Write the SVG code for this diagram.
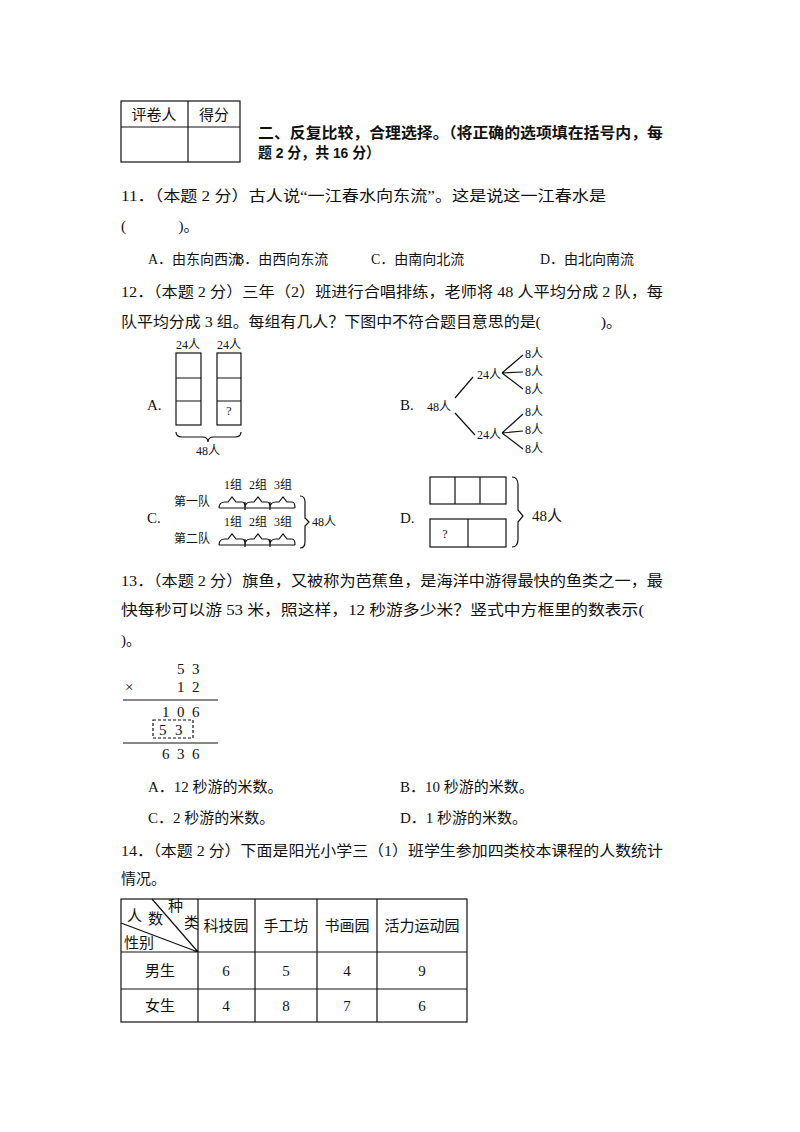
<svg xmlns="http://www.w3.org/2000/svg" width="800" height="1132" viewBox="0 0 800 1132">
<style>
text{font-family:"Liberation Serif","Noto Sans CJK SC",serif;font-size:15px;fill:#111}
.s{font-size:12px}
.o{font-size:14px}
.b{font-weight:bold;font-family:"Liberation Sans","Noto Sans CJK SC",sans-serif}
.l{stroke:#111;stroke-width:1.2;fill:none}
.m{text-anchor:middle}
</style>
<rect width="800" height="1132" fill="#fff"/>
<g id="header">
<rect x="121" y="101" width="119" height="61" class="l"/>
<line x1="188" y1="101" x2="188" y2="162" class="l"/>
<line x1="121" y1="127" x2="240" y2="127" class="l"/>
<text x="154" y="120" class="m">评卷人</text><text x="214" y="120" class="m">得分</text>
<text x="258" y="138" class="b" textLength="405" lengthAdjust="spacingAndGlyphs">二、反复比较，合理选择。（将正确的选项填在括号内，每</text>
<text x="258" y="158" class="b" textLength="122" lengthAdjust="spacingAndGlyphs">题 2 分，共 16 分）</text>
</g>
<g id="q11">
<text x="121" y="201" textLength="485" lengthAdjust="spacingAndGlyphs">11．（本题 2 分）古人说“一江春水向东流”。这是说这一江春水是</text>
<text x="121" y="231">(&#160;&#160;&#160;&#160;&#160;&#160;&#160;&#160;&#160;&#160;&#160;&#160;&#160;&#160;)。</text>
<text x="148" y="264" class="o">A．由东向西流</text><text x="235" y="264" class="o">B．由西向东流</text><text x="371" y="264" class="o">C．由南向北流</text><text x="540" y="264" class="o">D．由北向南流</text>
</g>
<g id="q12">
<text x="121" y="297" textLength="542" lengthAdjust="spacingAndGlyphs">12．（本题 2 分）三年（2）班进行合唱排练，老师将 48 人平均分成 2 队，每</text>
<text x="121" y="327" textLength="501" lengthAdjust="spacingAndGlyphs">队平均分成 3 组。每组有几人？下图中不符合题目意思的是(&#160;&#160;&#160;&#160;&#160;&#160;&#160;&#160;&#160;&#160;&#160;&#160;&#160;&#160;&#160;)。</text>
</g>
<g id="optA">
<text x="147" y="410">A.</text>
<text x="188" y="349" class="s m">24人</text><text x="229" y="349" class="s m">24人</text>
<rect x="176" y="353" width="25" height="72" class="l"/><rect x="217" y="353" width="24" height="72" class="l"/>
<path d="M176 378H201M176 401H201M217 378H241M217 401H241" class="l"/>
<text x="229" y="415" class="s m">?</text>
<path d="M176 432q0 5 6 5h20q6 0 6 5q0-5 6-5h21q6 0 6-5" class="l"/>
<text x="208" y="455" class="s m">48人</text>
</g>
<g id="optB">
<text x="400" y="410">B.</text>
<text x="427" y="411" class="s">48人</text>
<text x="477" y="379" class="s">24人</text><text x="477" y="439" class="s">24人</text>
<path d="M455 398L473 377M455 413L475 435M502 373L523 355M502 373L523 372M502 373L523 389M502 433L523 414M502 433L523 431M502 433L523 449" class="l"/>
<text x="525" y="358" class="s">8人</text><text x="525" y="376" class="s">8人</text><text x="525" y="394" class="s">8人</text>
<text x="525" y="416" class="s">8人</text><text x="525" y="434" class="s">8人</text><text x="525" y="453" class="s">8人</text>
</g>
<g id="optC">
<text x="147" y="523">C.</text>
<text x="233" y="489" class="s m">1组</text><text x="258" y="489" class="s m">2组</text><text x="283" y="489" class="s m">3组</text>
<text x="233" y="526" class="s m">1组</text><text x="258" y="526" class="s m">2组</text><text x="283" y="526" class="s m">3组</text>
<text x="174" y="506" class="s">第一队</text><text x="174" y="543" class="s">第二队</text>
<path d="M219 508q0-6 6-6h3l4-5l4 5h6q3 0 3 6M245 508q0-6 6-6h3l4-5l4 5h5q3 0 3 6M270 508q0-6 6-6h3l4-5l4 5h5q3 0 3 6M219 508h76M245 502v8M270 502v8" class="l"/>
<path d="M219 545q0-6 6-6h3l4-5l4 5h6q3 0 3 6M245 545q0-6 6-6h3l4-5l4 5h5q3 0 3 6M270 545q0-6 6-6h3l4-5l4 5h5q3 0 3 6M219 545h76M245 539v8M270 539v8" class="l"/>
<path d="M300 496q5 0 5 6v16l4 4l-4 4v16q0 6-5 6" class="l"/>
<text x="312" y="526" class="s">48人</text>
</g>
<g id="optD">
<text x="400" y="523">D.</text>
<rect x="430" y="477" width="76" height="27" class="l"/>
<path d="M455 477V504M480 477V504" class="l"/>
<rect x="430" y="519" width="76" height="28" class="l"/>
<path d="M468 519V547" class="l"/>
<text x="445" y="538" class="s m">?</text>
<path d="M512 477q6 0 6 8v25l5 6l-5 6v17q0 8-6 8" class="l"/>
<text x="532" y="521">48人</text>
</g>
<g id="q13">
<text x="121" y="586" textLength="542" lengthAdjust="spacingAndGlyphs">13．（本题 2 分）旗鱼，又被称为芭蕉鱼，是海洋中游得最快的鱼类之一，最</text>
<text x="121" y="615" textLength="523" lengthAdjust="spacingAndGlyphs">快每秒可以游 53 米，照这样，12 秒游多少米？竖式中方框里的数表示(</text>
<text x="121" y="645">)。</text>
<text x="177" y="674">5</text><text x="192" y="674">3</text>
<text x="125" y="692">×</text>
<text x="177" y="692">1</text><text x="192" y="692">2</text>
<line x1="123" y1="700" x2="218" y2="700" class="l"/>
<text x="162" y="717">1</text><text x="177" y="717">0</text><text x="192" y="717">6</text>
<rect x="153" y="720" width="40" height="18" class="l" stroke-dasharray="3,2"/>
<text x="159" y="735">5</text><text x="175" y="735">3</text>
<line x1="123" y1="743" x2="218" y2="743" class="l"/>
<text x="162" y="759">6</text><text x="177" y="759">3</text><text x="192" y="759">6</text>
<text x="148" y="792">A．12 秒游的米数。</text><text x="400" y="792">B．10 秒游的米数。</text>
<text x="148" y="823">C．2 秒游的米数。</text><text x="400" y="823">D．1 秒游的米数。</text>
</g>
<g id="q14">
<text x="121" y="856" textLength="542" lengthAdjust="spacingAndGlyphs">14．（本题 2 分）下面是阳光小学三（1）班学生参加四类校本课程的人数统计</text>
<text x="121" y="884">情况。</text>
<rect x="121" y="899" width="346" height="123" class="l"/>
<path d="M198 899V1022M255 899V1022M317 899V1022M377 899V1022M121 952H467M121 989H467M152 899L198 952M121 923L198 952" class="l"/>
<text x="127" y="921">人</text><text x="148" y="924">数</text><text x="168" y="911">种</text><text x="184" y="928">类</text><text x="124" y="948">性别</text>
<text x="226" y="931" class="m">科技园</text><text x="286" y="931" class="m">手工坊</text><text x="347" y="931" class="m">书画园</text><text x="422" y="931" class="m">活力运动园</text>
<text x="160" y="976" class="m">男生</text><text x="226" y="976" class="m">6</text><text x="286" y="976" class="m">5</text><text x="347" y="976" class="m">4</text><text x="422" y="976" class="m">9</text>
<text x="160" y="1011" class="m">女生</text><text x="226" y="1011" class="m">4</text><text x="286" y="1011" class="m">8</text><text x="347" y="1011" class="m">7</text><text x="422" y="1011" class="m">6</text>
</g>
</svg>
